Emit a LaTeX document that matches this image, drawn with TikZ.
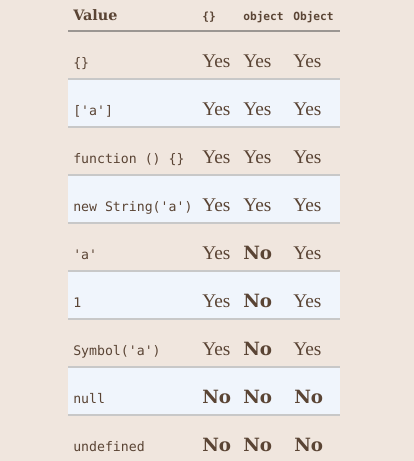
\documentclass[tikz,border=0pt]{standalone}
\usepackage{fontspec}
\setmainfont{Liberation Serif}
\setmonofont{DejaVu Sans Mono}
\newfontfamily\noserif{DejaVu Serif}
\usepackage{tikz}
\definecolor{pagebg}{RGB}{240,230,222}
\definecolor{rowblue}{RGB}{240,245,252}
\definecolor{inkbrown}{RGB}{90,68,52}
\definecolor{rulegray}{RGB}{200,200,200}
\definecolor{headgray}{RGB}{155,150,146}
\tikzset{
  hdval/.style={anchor=base west,inner sep=0pt,text=inkbrown,font=\noserif\bfseries\fontsize{10.8}{13}\selectfont},
  hdcode/.style={anchor=base west,inner sep=0pt,text=inkbrown,font=\ttfamily\bfseries\fontsize{8.4}{10}\selectfont},
  codecell/.style={anchor=base west,inner sep=0pt,text=inkbrown,font=\ttfamily\fontsize{9.9}{12}\selectfont},
  yescell/.style={anchor=base west,inner sep=0pt,text=inkbrown,font=\fontsize{14.5}{17}\selectfont},
  nocell/.style={anchor=base west,inner sep=0pt,text=inkbrown,font=\noserif\bfseries\fontsize{13.7}{16}\selectfont},
}
\begin{document}
\begin{tikzpicture}[x=0.75pt,y=0.75pt,yscale=-1,xscale=1]
\fill[pagebg] (0,0) rectangle (414,461);
\useasboundingbox (0,0) rectangle (414,461);

%Shaded rows
\fill[rowblue] (68,79) rectangle (340,127);
\fill[rowblue] (68,175) rectangle (340,223);
\fill[rowblue] (68,271) rectangle (340,319);
\fill[rowblue] (68,367) rectangle (340,415);

%Header rule
\draw[headgray,line width=1.2] (68,31) -- (340,31);
%Row rules
\foreach \y in {79,127,175,223,271,319,367,415}
  \draw[rulegray,line width=1.2] (68,\y) -- (340,\y);

% Header
\draw (73,20) node [hdval] (hval) {Value};
\draw (202,20) node [hdcode] (hbrace) {\{\}};
\draw (243,20) node [hdcode] (hobj) {object};
\draw (293,20) node [hdcode] (hObj) {Object};

% Row 1
\draw (73,67) node [codecell] (v1) {\{\}};
\draw (202,67) node [yescell] (a1) {Yes};
\draw (243,67) node [yescell] (b1) {Yes};
\draw (293,67) node [yescell] (c1) {Yes};
% Row 2
\draw (73,115) node [codecell] (v2) {['a']};
\draw (202,115) node [yescell] (a2) {Yes};
\draw (243,115) node [yescell] (b2) {Yes};
\draw (293,115) node [yescell] (c2) {Yes};
% Row 3
\draw (73,163) node [codecell] (v3) {function () \{\}};
\draw (202,163) node [yescell] (a3) {Yes};
\draw (243,163) node [yescell] (b3) {Yes};
\draw (293,163) node [yescell] (c3) {Yes};
% Row 4
\draw (73,211) node [codecell] (v4) {new String('a')};
\draw (202,211) node [yescell] (a4) {Yes};
\draw (243,211) node [yescell] (b4) {Yes};
\draw (293,211) node [yescell] (c4) {Yes};
% Row 5
\draw (73,259) node [codecell] (v5) {'a'};
\draw (202,259) node [yescell] (a5) {Yes};
\draw (243,259) node [nocell] (b5) {No};
\draw (293,259) node [yescell] (c5) {Yes};
% Row 6
\draw (73,307) node [codecell] (v6) {1};
\draw (202,307) node [yescell] (a6) {Yes};
\draw (243,307) node [nocell] (b6) {No};
\draw (293,307) node [yescell] (c6) {Yes};
% Row 7
\draw (73,355) node [codecell] (v7) {Symbol('a')};
\draw (202,355) node [yescell] (a7) {Yes};
\draw (243,355) node [nocell] (b7) {No};
\draw (293,355) node [yescell] (c7) {Yes};
% Row 8
\draw (73,403) node [codecell] (v8) {null};
\draw (202,403) node [nocell] (a8) {No};
\draw (243,403) node [nocell] (b8) {No};
\draw (294,403) node [nocell] (c8) {No};
% Row 9
\draw (73,451) node [codecell] (v9) {undefined};
\draw (202,451) node [nocell] (a9) {No};
\draw (243,451) node [nocell] (b9) {No};
\draw (294,451) node [nocell] (c9) {No};

\end{tikzpicture}
\end{document}
